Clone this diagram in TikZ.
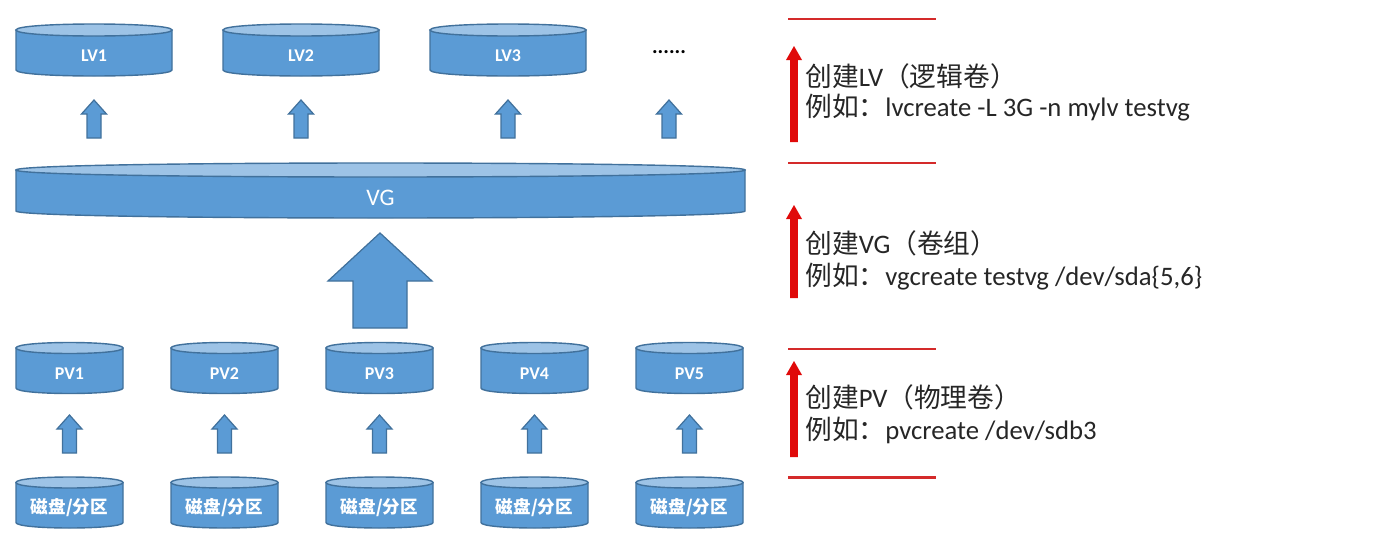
\documentclass[tikz,border=0pt]{standalone}
\usepackage{fontspec}
\setmainfont{Carlito}
\newfontfamily\cjk{Noto Sans CJK SC}
\definecolor{cylblue}{HTML}{5B9BD5}
\definecolor{cyltop}{HTML}{9DC3E6}
\definecolor{cylline}{HTML}{41719C}
\definecolor{redline}{HTML}{D42A2A}
\definecolor{redarrow}{HTML}{E00A0A}
\definecolor{txt}{HTML}{262626}
\tikzset{
  cylbody/.style={fill=cylblue, draw=cylline, line width=0.8pt},
  cyltopst/.style={fill=cyltop, draw=cylline, line width=0.8pt},
  cyllabel/.style={text=white, inner sep=0pt},
  bluearr/.style={fill=cylblue, draw=cylline, line width=0.7pt},
  redarr/.style={fill=redarrow, draw=none},
  sepline/.style={draw=redline, line width=1.7pt},
  desc/.style={text=txt, anchor=west, inner sep=0pt, font=\fontsize{15.2}{18}\selectfont},
}
% #1 name, #2 cx, #3 half width, #4 y top centre, #5 y bottom centre, #6 ry, #7 label
\newcommand\mycyl[7]{%
  \draw[cylbody] ({#2-#3},#4) -- ({#2-#3},#5) .. controls ({#2-#3},{#5+4/3*#6}) and ({#2+#3},{#5+4/3*#6}) .. ({#2+#3},#5) -- ({#2+#3},#4) -- cycle;
  \draw[cyltopst] ({#2-#3},#4) .. controls ({#2-#3},{#4-4/3*#6}) and ({#2+#3},{#4-4/3*#6}) .. ({#2+#3},#4) .. controls ({#2+#3},{#4+4/3*#6}) and ({#2-#3},{#4+4/3*#6}) .. ({#2-#3},#4) -- cycle;
  \node[cyllabel] (#1) at (#2,{(#4+#5)/2+#6}) {#7};
}
% #1 style, #2 cx, #3 tip y, #4 head base y, #5 bottom y, #6 head half, #7 shaft half
\newcommand\uparr[7]{%
  \draw[#1] (#2,#3) -- ({#2+#6},#4) -- ({#2+#7},#4) -- ({#2+#7},#5) -- ({#2-#7},#5) -- ({#2-#7},#4) -- ({#2-#6},#4) -- cycle;
}
\begin{document}
\begin{tikzpicture}[x=0.02cm, y=-0.02cm]
\useasboundingbox[fill=white] (0,0) rectangle (1373,558);
% LV level
\mycyl{lv1}{94}{78}{30}{70}{6}{\fontsize{10.2}{12}\selectfont\bfseries LV1}
\mycyl{lv2}{301}{78}{30}{70}{6}{\fontsize{10.2}{12}\selectfont\bfseries LV2}
\mycyl{lv3}{508}{78}{30}{70}{6}{\fontsize{10.2}{12}\selectfont\bfseries LV3}
\node[text=black, inner sep=0pt, font=\fontsize{12}{14}\selectfont\bfseries] (more) at (669,52) {......};
\foreach \cx in {94,301,508,669} {\uparr{bluearr}{\cx}{100}{114}{138}{12.5}{7}}
% VG
\mycyl{vg}{380.5}{364.5}{170}{211}{7}{\fontsize{13.5}{15}\selectfont VG}
\uparr{bluearr}{380}{233}{281}{328}{52}{27}
% PV level
\mycyl{pv1}{69.5}{53.5}{348}{388}{5.5}{\fontsize{10.2}{12}\selectfont\bfseries PV1}
\mycyl{pv2}{224.5}{53.5}{348}{388}{5.5}{\fontsize{10.2}{12}\selectfont\bfseries PV2}
\mycyl{pv3}{379.5}{53.5}{348}{388}{5.5}{\fontsize{10.2}{12}\selectfont\bfseries PV3}
\mycyl{pv4}{534.5}{53.5}{348}{388}{5.5}{\fontsize{10.2}{12}\selectfont\bfseries PV4}
\mycyl{pv5}{689.5}{53.5}{348}{388}{5.5}{\fontsize{10.2}{12}\selectfont\bfseries PV5}
\foreach \cx in {69.5,224.5,379.5,534.5,689.5} {\uparr{bluearr}{\cx}{415}{429}{453}{12.5}{7}}
% disks
\mycyl{d1}{69.5}{53.5}{482.5}{522.5}{5.5}{\fontsize{10}{12}\selectfont\cjk\bfseries 磁盘/分区}
\mycyl{d2}{224.5}{53.5}{482.5}{522.5}{5.5}{\fontsize{10}{12}\selectfont\cjk\bfseries 磁盘/分区}
\mycyl{d3}{379.5}{53.5}{482.5}{522.5}{5.5}{\fontsize{10}{12}\selectfont\cjk\bfseries 磁盘/分区}
\mycyl{d4}{534.5}{53.5}{482.5}{522.5}{5.5}{\fontsize{10}{12}\selectfont\cjk\bfseries 磁盘/分区}
\mycyl{d5}{689.5}{53.5}{482.5}{522.5}{5.5}{\fontsize{10}{12}\selectfont\cjk\bfseries 磁盘/分区}
% right side separators
\foreach \yy in {19,163,349,477} {\draw[sepline] (788,\yy) -- (936,\yy);}
% red arrows
\uparr{redarr}{794}{46}{60}{142}{8}{3.8}
\uparr{redarr}{794}{205}{219}{298}{8}{3.8}
\uparr{redarr}{794}{361}{375}{457}{8}{3.8}
% descriptions
\node[desc] (lvt) at (805,76) {{\cjk 创建}LV{\cjk （逻辑卷）}};
\node[desc] (lvc) at (805,108) {{\cjk 例如：}lvcreate -L 3G -n mylv testvg};
\node[desc] (vgt) at (805,243) {{\cjk 创建}VG{\cjk （卷组）}};
\node[desc] (vgc) at (805,277) {{\cjk 例如：}vgcreate testvg /dev/sda\{5,6\}};
\node[desc] (pvt) at (805,397) {{\cjk 创建}PV{\cjk （物理卷）}};
\node[desc] (pvc) at (805,430) {{\cjk 例如：}pvcreate /dev/sdb3};
\end{tikzpicture}
\end{document}
